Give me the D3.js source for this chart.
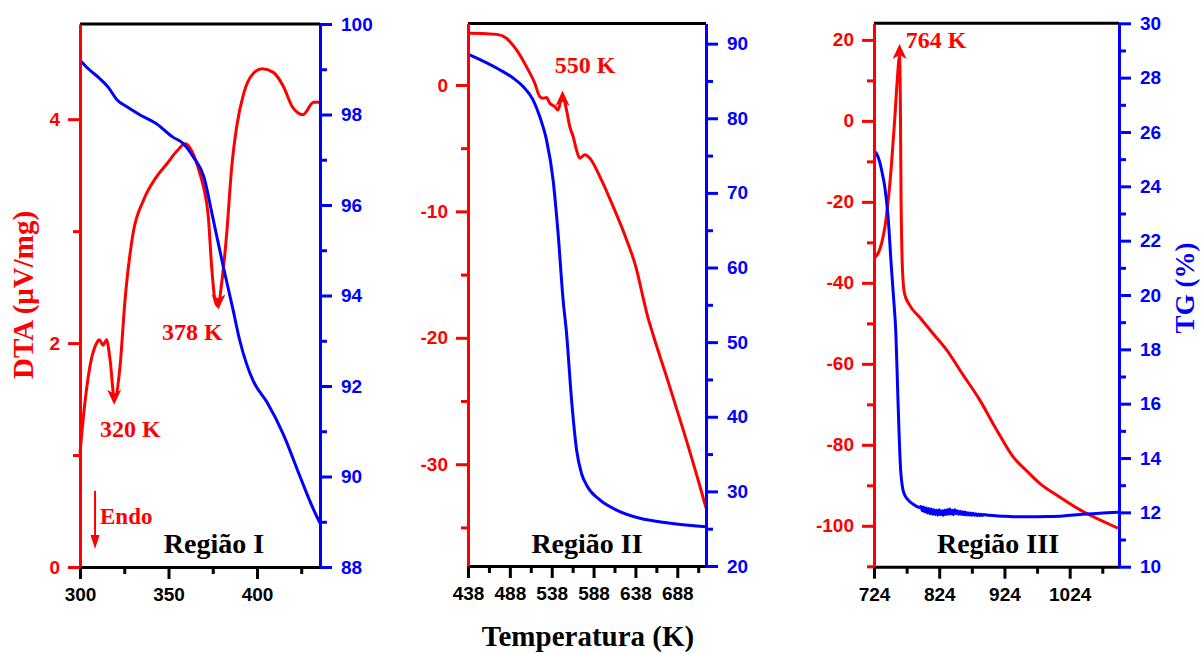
<!DOCTYPE html>
<html>
<head>
<meta charset="utf-8">
<script src="https://cdn.jsdelivr.net/npm/d3@7"></script>
<style>
html,body{margin:0;padding:0;background:#fff;}
svg{display:block;}
</style>
</head>
<body>
<svg id="chart" width="1201" height="654"></svg>
<script>
// ---------- DATA ----------
// Região I
const r1TempDTA = [300,301.9,305.6,309.4,311,313,315,317,319.5,322.6,325.4,330,336,343,349,355,359.5,363,368,370,372.5,374.4,376.3,378,380,382.9,385.7,388.5,392.5,398,403,409,415,420,426,432,435.6];
const r1DTA     = [1.02,1.34,1.79,2.0,2.03,1.98,2.03,1.85,1.5,1.79,2.38,2.98,3.28,3.48,3.6,3.72,3.78,3.72,3.5,3.38,3.13,2.68,2.38,2.33,2.53,2.98,3.57,3.93,4.23,4.41,4.45,4.42,4.29,4.11,4.04,4.15,4.15];
const r1TempTG  = [300,305,311,316,321,326.5,334,343,352.5,358,364,370,375,381,386.4,390,394,398,405.5,414.7,424.3,431.6,435.6];
const r1TG      = [99.2,99.0,98.8,98.6,98.32,98.17,97.99,97.8,97.5,97.37,97.06,96.62,95.73,94.63,93.7,93.05,92.5,92.1,91.65,90.95,90.0,89.3,88.97];

// Região II
const r2TempDTA = [438,440,472,483.9,495.9,507.8,517.8,523.8,527.7,531.8,535.7,541.7,545.6,550.9,555.7,559.6,563.6,567.6,571.6,577.6,583.6,595.5,611.4,627.4,639.4,645,651.4,659.3,675.3,695.2,715.3,722.3];
const r2DTA     = [4.09,4.09,4.0,3.69,2.77,1.45,0.13,-0.92,-1.05,-1.0,-1.45,-1.71,-1.98,-0.79,-1.98,-3.3,-4.08,-5.14,-5.8,-5.53,-5.8,-7.25,-9.62,-12.25,-14.6,-16.2,-18.0,-19.8,-23.1,-27.3,-31.8,-33.45];
const r2TempTG  = [438,440,475.9,491.8,503.8,515.7,523.8,531.8,539.7,545.6,551.6,555.7,561.7,567.7,573.6,579.6,595.5,615.5,643.4,675.3,722.3];
const r2TG      = [88.6,88.5,86.5,85.4,84.25,82.47,80.2,77.1,71.7,64.6,55.66,51.2,42.25,35.55,32.4,30.86,28.85,27.5,26.4,25.8,25.25];

// Região III
const r3TempDTA = [724,732.7,743,750.6,755.7,759.3,763.2,764.4,765.5,768,771,778.6,794,814.4,835,860,886,911.6,937,958,978,1008,1039.3,1070,1098];
const r3DTA     = [-33.9,-31.85,-23.6,-11.2,0.25,9.3,16.0,5.0,-19.5,-38.0,-42.8,-45.5,-48.5,-52.5,-56.5,-62.6,-68.9,-76.2,-82.9,-86.4,-89.5,-92.8,-96,-98.5,-100.6];
const r3TempTG  = [724,728,732.7,736.5,740.4,745.5,750.7,754,757.5,760.8,764.5,768.5,772,776.1,784,794,
  796,798,800,802,804,806,808,810,812,814,816,818,820,822,824,826,828,830,832,834,836,838,840,842,844,846,848,850,852,854,856,858,860,862,864,866,868,870,872,874,876,878,880,882,884,886,888,890,892,
  900,920,937,960,990,1013.6,1040,1070,1098];
const r3TG      = [25.3,25.2,24.9,24.5,24.0,22.9,21.0,19.9,18.6,16.1,13.7,12.82,12.6,12.46,12.3,12.18,
  12.22,12.06,12.20,12.02,12.16,11.98,12.14,11.95,12.12,11.93,12.10,11.92,12.08,11.90,12.10,11.91,12.06,11.89,12.08,11.92,12.10,11.93,12.12,11.94,12.08,11.92,12.10,11.95,12.06,11.93,12.04,11.92,12.02,11.91,12.01,11.90,11.99,11.90,11.98,11.89,11.97,11.89,11.95,11.88,11.94,11.88,11.93,11.88,11.92,
  11.89,11.86,11.84,11.84,11.85,11.87,11.92,11.97,12.0];

// Axis domains
const r1TempDomain = [300,435.6], r1DTADomain = [0,4.85], r1TGDomain = [88,100];
const r2TempDomain = [438,722.3], r2DTADomain = [-38.05,4.86], r2TGDomain = [20,92.7];
const r3TempDomain = [724,1099.6], r3DTADomain = [-110.1,24.1], r3TGDomain = [10,30];

// Tick values
const r1TempTicks = [300,350,400], r1TempMinor = [325,375,425];
const r1DTATicks = [0,2,4], r1DTAMinor = [1,3];
const r1TGTicks = [88,90,92,94,96,98,100], r1TGMinor = [89,91,93,95,97,99];
const r2TempTicks = [438,488,538,588,638,688], r2TempMinor = [463,513,563,613,663,713];
const r2DTATicks = [0,-10,-20,-30], r2DTAMinor = [-5,-15,-25,-35];
const r2TGTicks = [20,30,40,50,60,70,80,90], r2TGMinor = [25,35,45,55,65,75,85];
const r3TempTicks = [724,824,924,1024], r3TempMinor = [774,874,974,1074];
const r3DTATicks = [20,0,-20,-40,-60,-80,-100], r3DTAMinor = [10,-10,-30,-50,-70,-90,-110];
const r3TGTicks = [10,12,14,16,18,20,22,24,26,28,30], r3TGMinor = [11,13,15,17,19,21,23,25,27,29];

// Texts
const regionNames = ["Região I","Região II","Região III"];
const xTitle = "Temperatura (K)";
const yLeftTitle = "DTA (μV/mg)";
const yRightTitle = "TG (%)";

// ---------- DRAW ----------
const RED = "#ff0000", BLUE = "#0000ff", BLACK = "#000000";
const svg = d3.select("#chart");
svg.append("rect").attr("width",1201).attr("height",654).attr("fill","#fff");

const layout = [
  {x0:80,  x1:320,  y0:24,   y1:567,   nameX:214},
  {x0:468, x1:706,  y0:23.5, y1:566,   nameX:587},
  {x0:874, x1:1119, y0:23.3, y1:566.7, nameX:998}
];

const panels = [
  {tT:r1TempDTA, dta:r1DTA, gT:r1TempTG, tg:r1TG, xd:r1TempDomain, yd:r1DTADomain, gd:r1TGDomain,
   xt:r1TempTicks, xm:r1TempMinor, yt:r1DTATicks, ym:r1DTAMinor, gt:r1TGTicks, gm:r1TGMinor},
  {tT:r2TempDTA, dta:r2DTA, gT:r2TempTG, tg:r2TG, xd:r2TempDomain, yd:r2DTADomain, gd:r2TGDomain,
   xt:r2TempTicks, xm:r2TempMinor, yt:r2DTATicks, ym:r2DTAMinor, gt:r2TGTicks, gm:r2TGMinor},
  {tT:r3TempDTA, dta:r3DTA, gT:r3TempTG, tg:r3TG, xd:r3TempDomain, yd:r3DTADomain, gd:r3TGDomain,
   xt:r3TempTicks, xm:r3TempMinor, yt:r3DTATicks, ym:r3DTAMinor, gt:r3TGTicks, gm:r3TGMinor}
];

const sansBold = "'Liberation Sans', Arial, sans-serif";
const serifBold = "'Liberation Serif', 'Times New Roman', serif";

function styleAxis(g, color, fontSize){
  g.selectAll("path.domain").attr("stroke",color).attr("stroke-width",3);
  g.selectAll(".tick line").attr("stroke",color).attr("stroke-width",3);
  g.selectAll(".tick text").attr("fill",color).attr("font-family",sansBold)
    .attr("font-weight","bold").attr("font-size",fontSize);
}

const scales = [];
panels.forEach((p,i)=>{
  const L = layout[i];
  const x = d3.scaleLinear().domain(p.xd).range([L.x0,L.x1]);
  const y = d3.scaleLinear().domain(p.yd).range([L.y1,L.y0]);
  const yg = d3.scaleLinear().domain(p.gd).range([L.y1,L.y0]);
  scales.push({x,y,yg});
  const g = svg.append("g");

  // curves
  const lineD = d3.line().x((d,k)=>x(p.tT[k])).y(d=>y(d)).curve(d3.curveMonotoneX);
  const lineG = d3.line().x((d,k)=>x(p.gT[k])).y(d=>yg(d)).curve(d3.curveMonotoneX);
  g.append("path").datum(p.dta).attr("d",lineD).attr("fill","none")
    .attr("stroke",RED).attr("stroke-width",3).attr("stroke-linejoin","round");
  g.append("path").datum(p.tg).attr("d",lineG).attr("fill","none")
    .attr("stroke",BLUE).attr("stroke-width",3).attr("stroke-linejoin","round");

  // top frame line
  g.append("line").attr("x1",L.x0).attr("x2",L.x1).attr("y1",L.y0).attr("y2",L.y0)
    .attr("stroke",BLACK).attr("stroke-width",3);

  // bottom axis
  const gx = g.append("g").attr("transform",`translate(0,${L.y1})`)
    .call(d3.axisBottom(x).tickValues(p.xt).tickSize(12).tickSizeOuter(0).tickPadding(9).tickFormat(d3.format("d")));
  styleAxis(gx, BLACK, 19);
  const gxm = g.append("g").attr("transform",`translate(0,${L.y1})`)
    .call(d3.axisBottom(x).tickValues(p.xm).tickSize(7).tickSizeOuter(0).tickFormat(""));
  styleAxis(gxm, BLACK, 19); gxm.select("path.domain").remove();

  // left axis
  const gl = g.append("g").attr("transform",`translate(${L.x0},0)`)
    .call(d3.axisLeft(y).tickValues(p.yt).tickSize(12).tickSizeOuter(0).tickPadding(8).tickFormat(d3.format("d")));
  styleAxis(gl, RED, 19);
  gl.selectAll(".tick text").text(d=>d<0?"-"+Math.abs(d):d);
  const glm = g.append("g").attr("transform",`translate(${L.x0},0)`)
    .call(d3.axisLeft(y).tickValues(p.ym).tickSize(7).tickSizeOuter(0).tickFormat(""));
  styleAxis(glm, RED, 19); glm.select("path.domain").remove();

  // right axis
  const gr = g.append("g").attr("transform",`translate(${L.x1},0)`)
    .call(d3.axisRight(yg).tickValues(p.gt).tickSize(12).tickSizeOuter(0).tickPadding(9).tickFormat(d3.format("d")));
  styleAxis(gr, BLUE, 19);
  const grm = g.append("g").attr("transform",`translate(${L.x1},0)`)
    .call(d3.axisRight(yg).tickValues(p.gm).tickSize(7).tickSizeOuter(0).tickFormat(""));
  styleAxis(grm, BLUE, 19); grm.select("path.domain").remove();

  // region name
  g.append("text").attr("x",L.nameX).attr("y",553).attr("text-anchor","middle")
    .attr("font-family",serifBold).attr("font-weight","bold").attr("font-size",28)
    .attr("fill",BLACK).text(regionNames[i]);
});

// Arrowheads at peaks (panel, T, value, direction)
const arrowMarks = [
  {p:0, T:319.3, v:1.45, dir:"down"},
  {p:0, T:378.2, v:2.30, dir:"down"},
  {p:1, T:550.9, v:-0.45, dir:"up"},
  {p:2, T:763.2, v:19.0, dir:"up"}
];
arrowMarks.forEach(a=>{
  const s = scales[a.p];
  const tx = s.x(a.T), ty = s.y(a.v);
  const w = 7, h = 15;
  const pts = a.dir==="down"
    ? [[tx,ty],[tx-w,ty-h],[tx,ty-h+4],[tx+w,ty-h]]
    : [[tx,ty],[tx-w,ty+h],[tx,ty+h-4],[tx+w,ty+h]];
  svg.append("path").attr("d","M"+pts.map(q=>q.join(",")).join("L")+"Z").attr("fill",RED);
});

// Endo arrow
{
  const s = scales[0];
  const ex = s.x(308.5), eTop = s.y(0.68), eTip = s.y(0.16);
  svg.append("line").attr("x1",ex).attr("x2",ex).attr("y1",eTop).attr("y2",eTip-8)
    .attr("stroke",RED).attr("stroke-width",2);
  svg.append("path").attr("d",`M${ex},${eTip}L${ex-4.5},${eTip-14}L${ex+4.5},${eTip-14}Z`).attr("fill",RED);
  svg.append("text").attr("x",ex+5).attr("y",s.y(0.38)).attr("font-family",serifBold)
    .attr("font-weight","bold").attr("font-size",23).attr("fill",RED).text("Endo");
}

// Peak labels
const peakLabels = [
  {p:0, T:311.3, v:1.16, text:"320 K"},
  {p:0, T:346.3, v:2.03, text:"378 K"},
  {p:1, T:541.7, v:0.95, text:"550 K"},
  {p:2, T:772.6, v:18.0, text:"764 K"}
];
peakLabels.forEach(l=>{
  const s = scales[l.p];
  svg.append("text").attr("x",s.x(l.T)).attr("y",s.y(l.v)).attr("font-family",serifBold)
    .attr("font-weight","bold").attr("font-size",24).attr("fill",RED).text(l.text);
});

// Axis titles
svg.append("text").attr("x",588).attr("y",646).attr("text-anchor","middle")
  .attr("font-family",serifBold).attr("font-weight","bold").attr("font-size",29)
  .attr("fill",BLACK).text(xTitle);
svg.append("text").attr("transform","translate(33,295) rotate(-90)").attr("text-anchor","middle")
  .attr("font-family",serifBold).attr("font-weight","bold").attr("font-size",29)
  .attr("fill",RED).text(yLeftTitle);
svg.append("text").attr("transform","translate(1194,288) rotate(-90)").attr("text-anchor","middle")
  .attr("font-family",serifBold).attr("font-weight","bold").attr("font-size",27)
  .attr("fill",BLUE).text(yRightTitle);
</script>
</body>
</html>
